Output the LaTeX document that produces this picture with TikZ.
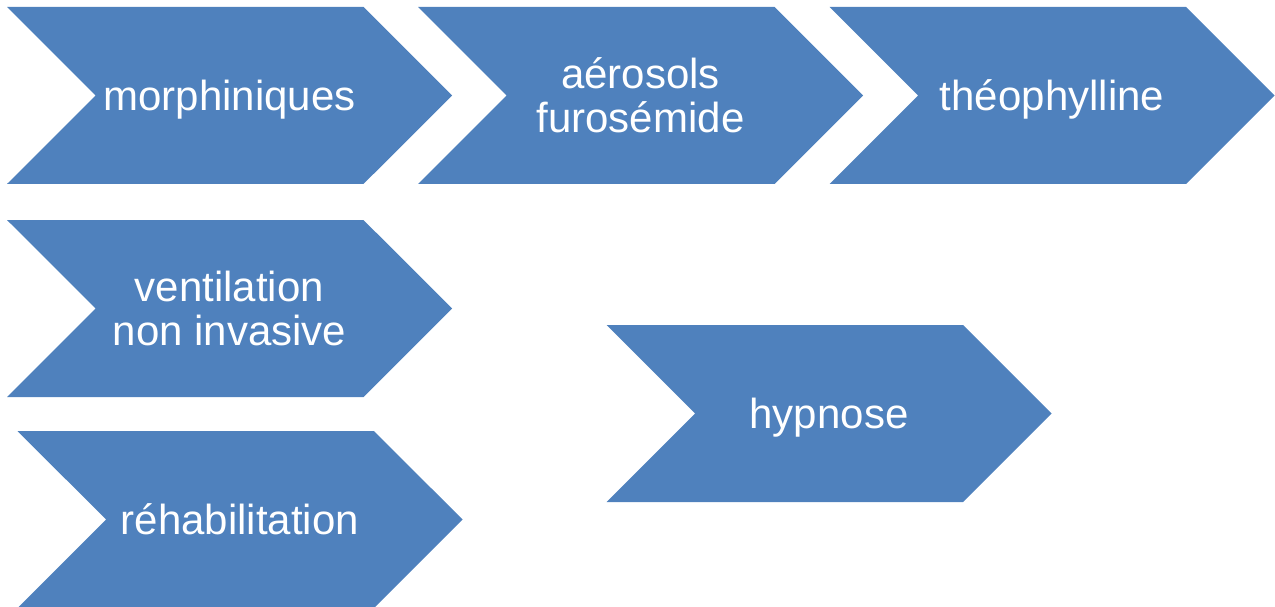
\documentclass[tikz,border=0pt]{standalone}
\usepackage{fontspec}
\setmainfont{Liberation Sans}
\usepackage{tikz}
\usetikzlibrary{shapes.symbols,positioning}
\definecolor{chevblue}{HTML}{4F81BD}
\tikzset{chevron/.style={
         shape=signal,signal to=east,signal from=west,signal pointer angle=90,
         fill=chevblue,draw=none,text=white,align=center,inner sep=0pt,
         minimum width=445pt,minimum height=177pt,
         font=\fontsize{42}{44}\selectfont}}
\tikzset{oneline/.style={text height=38pt,text depth=8.9pt}}

\begin{document}
\begin{tikzpicture}[x=1pt,y=-1pt]
\useasboundingbox (0,0) rectangle (1275,607);

% premiere rangee
\node (morph) at (229.5,95.5) [chevron,oneline] {morphiniques};
\node (aero)  at (640.5,95.5) [chevron] {aérosols\\furosémide};
\node (theo)  at (1052,95.5) [chevron,oneline] {théophylline};

% a gauche
\node (vni)   at (229.5,308.5) [chevron] {ventilation\\non invasive};
\node (rehab) at (240,519.5) [chevron,oneline] {réhabilitation};

% a droite
\node (hypno) at (829,413.5) [chevron,oneline] {hypnose};

\end{tikzpicture}
\end{document}
